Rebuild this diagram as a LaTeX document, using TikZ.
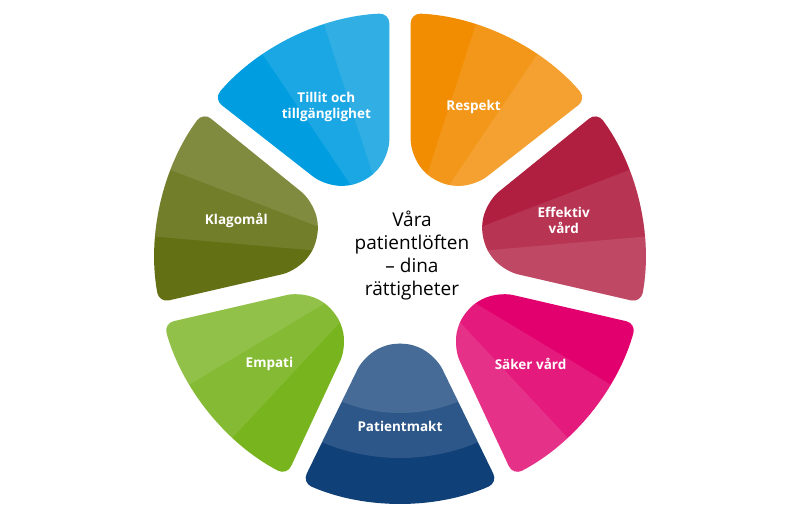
\documentclass[tikz,border=0pt]{standalone}
\usepackage{fontspec}
\setmainfont{Open Sans}
\definecolor{cPatient}{RGB}{16,64,120}
\definecolor{cSaker}{RGB}{226,0,110}
\definecolor{cEffektiv}{RGB}{176,30,64}
\definecolor{cRespekt}{RGB}{242,140,0}
\definecolor{cTillit}{RGB}{0,158,224}
\definecolor{cKlagomal}{RGB}{100,112,20}
\definecolor{cEmpati}{RGB}{120,180,30}
\tikzset{
  seglabel/.style={text=white,font=\bfseries\fontsize{13.5}{16}\selectfont,align=center},
  midlabel/.style={text=black,font=\fontsize{19}{23}\selectfont,align=center}
}
% one petal: angle, colour, label, name
\newcommand{\petal}[4]{%
  \begin{scope}
    \clip[rounded corners=10pt] (#1-23.5:245) arc[start angle=#1-23.5,end angle=#1+23.5,radius=245]
      [rounded corners=17pt] -- (#1+20:102) -- (#1:82) -- (#1-20:102) [rounded corners=10pt] -- cycle;
    \fill[#2] (-260,-260) rectangle (260,260);
    \ifnum#1=270
      \fill[white,opacity=.12] (0,0) circle[radius=200];
      \fill[white,opacity=.12] (0,0) circle[radius=155];
    \else
      \fill[white,opacity=.1] (0,0) -- (#1+8:260) arc[start angle=#1+8,end angle=#1-30,radius=260] -- cycle;
      \fill[white,opacity=.1] (0,0) -- (#1-8:260) arc[start angle=#1-8,end angle=#1-30,radius=260] -- cycle;
    \fi
  \end{scope}
  \node[seglabel] (#4) at (#1:168) {#3};}
\begin{document}
\begin{tikzpicture}[x=1pt,y=1pt]
\useasboundingbox (-400,-271) rectangle (400,258);
\petal{270}{cPatient}{Patientmakt}{patientmakt}
\petal{321}{cSaker}{Säker vård}{saker}
\petal{13}{cEffektiv}{Effektiv\\vård}{effektiv}
\petal{64}{cRespekt}{Respekt}{respekt}
\petal{116}{cTillit}{Tillit och\\tillgänglighet}{tillit}
\petal{167}{cKlagomal}{Klagomål}{klagomal}
\petal{219}{cEmpati}{Empati}{empati}
\node[midlabel] (center) at (12,2) {Våra\\patientlöften\\– dina\\rättigheter};
\end{tikzpicture}
\end{document}
